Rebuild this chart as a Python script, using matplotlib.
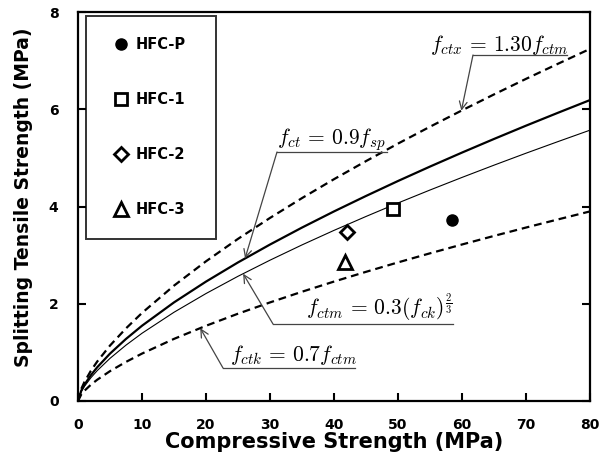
import numpy as np
import matplotlib
matplotlib.use("Agg")
import matplotlib.pyplot as plt

plt.rcParams['mathtext.fontset'] = 'cm'

# ---- data ----
fck = [0, 0.5, 1, 2, 3, 5, 7.5, 10, 15, 20, 25, 30, 35, 40, 45, 50, 55, 60, 65, 70, 75, 80]
fctm = [0, 0.189, 0.300, 0.476, 0.624, 0.877, 1.149, 1.393, 1.825, 2.210, 2.565, 2.896,
        3.210, 3.509, 3.795, 4.072, 4.339, 4.598, 4.850, 5.096, 5.335, 5.570]
k_ctx = 1.30      # f_ctx = 1.30 f_ctm
k_ct = 0.9        # f_ct = 0.9 f_sp  -> f_sp = f_ctm / 0.9
k_ctk = 0.7       # f_ctk = 0.7 f_ctm

series_names = ['HFC-P', 'HFC-1', 'HFC-2', 'HFC-3']
series_x = [58.4, 49.2, 42.1, 41.7]
series_y = [3.72, 3.95, 3.47, 2.85]

x_ticks = [0, 10, 20, 30, 40, 50, 60, 70, 80]
y_ticks = [0, 2, 4, 6, 8]

fck = np.array(fck)
fctm = np.array(fctm)
f_ctx = k_ctx * fctm
f_sp = fctm / k_ct
f_ctk = k_ctk * fctm

FAM = ['DejaVu Sans']

fig = plt.figure(figsize=(6.08, 4.54), dpi=100)
ax = fig.add_axes([78/608, 53/454, 512/608, 389/454])

ax.plot(fck, f_ctx, color='black', lw=1.6, ls=(0, (3.5, 2.2)))
ax.plot(fck, f_sp, color='black', lw=1.6, ls='-')
ax.plot(fck, fctm, color='black', lw=0.8, ls='-')
ax.plot(fck, f_ctk, color='black', lw=1.6, ls=(0, (3.5, 2.2)))

styles = [dict(marker='o', ms=8, mfc='black', mec='black', mew=1),
          dict(marker='s', ms=9, mfc='white', mec='black', mew=2),
          dict(marker='D', ms=7.5, mfc='white', mec='black', mew=2),
          dict(marker='^', ms=10, mfc='white', mec='black', mew=2)]
for name, xv, yv, st in zip(series_names, series_x, series_y, styles):
    ax.plot([xv], [yv], ls='none', label=name, **st)

ax.set_xlim(0, 80)
ax.set_ylim(0, 8)
ax.set_xticks(x_ticks)
ax.set_yticks(y_ticks)
tickfont = dict(family=FAM, weight='bold', size=10)
ax.set_xticklabels([str(v) for v in x_ticks], **tickfont)
ax.set_yticklabels([str(v) for v in y_ticks], **tickfont)
ax.tick_params(axis='both', direction='in', length=6, width=1.5)
ax.tick_params(axis='x', pad=12)
ax.tick_params(axis='y', right=True, pad=14)
for s in ax.spines.values():
    s.set_linewidth(1.6)

ax.set_xlabel('Compressive Strength (MPa)', family=FAM, weight='bold', size=15, labelpad=0)
ax.set_ylabel('Splitting Tensile Strength (MPa)', family=FAM, weight='bold', size=13.5)
ax.yaxis.set_label_coords(-0.087, 0.524)

leg = ax.legend(loc='upper left', bbox_to_anchor=(8/512, 1 - 4/389, 130/512, 0.0),
                mode='expand', ncol=1, fancybox=False, frameon=True, edgecolor='black',
                prop=dict(family=FAM, weight='bold', size=10.5),
                borderpad=1.45, handlelength=1.9, handletextpad=0.05, labelspacing=2.75,
                borderaxespad=0, numpoints=1)
leg.get_frame().set_linewidth(1.4)

def axfrac(px, py):
    return ((px - 78) / 512, (401 - py) / 389)

def note(text, text_px, ul_px0, ul_px1, ul_py, tip_x, curve, fs=15.5):
    tx, ty = axfrac(*text_px)
    ax.text(tx, ty, text, transform=ax.transAxes, fontsize=fs, ha='left', va='center')
    x0, yu = axfrac(ul_px0, ul_py)
    x1, _ = axfrac(ul_px1, ul_py)
    ax.plot([x0, x1], [yu, yu], transform=ax.transAxes, color='#444444', lw=0.9, clip_on=False)
    tip_y = float(np.interp(tip_x, fck, curve))
    ax.annotate('', xy=(tip_x, tip_y), xycoords='data', xytext=(x0, yu), textcoords='axes fraction',
                arrowprops=dict(arrowstyle='->', color='#444444', lw=0.9, shrinkA=0, shrinkB=0,
                                mutation_scale=14))

note(r'$f_{ctx}\,=\,1.30f_{ctm}$', (430, 45), 473, 567, 55, 59.9, f_ctx)
note(r'$f_{ct}\,=\,0.9f_{sp}$', (277, 140), 277, 387, 152, 26.1, f_sp)
note(r'$f_{ctm}\,=\,0.3(f_{ck})^{\frac{2}{3}}$', (306, 308), 273, 453, 324, 25.8, fctm)
note(r'$f_{ctk}\,=\,0.7f_{ctm}$', (230, 355), 223, 355, 368, 19.1, f_ctk)

fig.savefig('out.png', dpi=100)
